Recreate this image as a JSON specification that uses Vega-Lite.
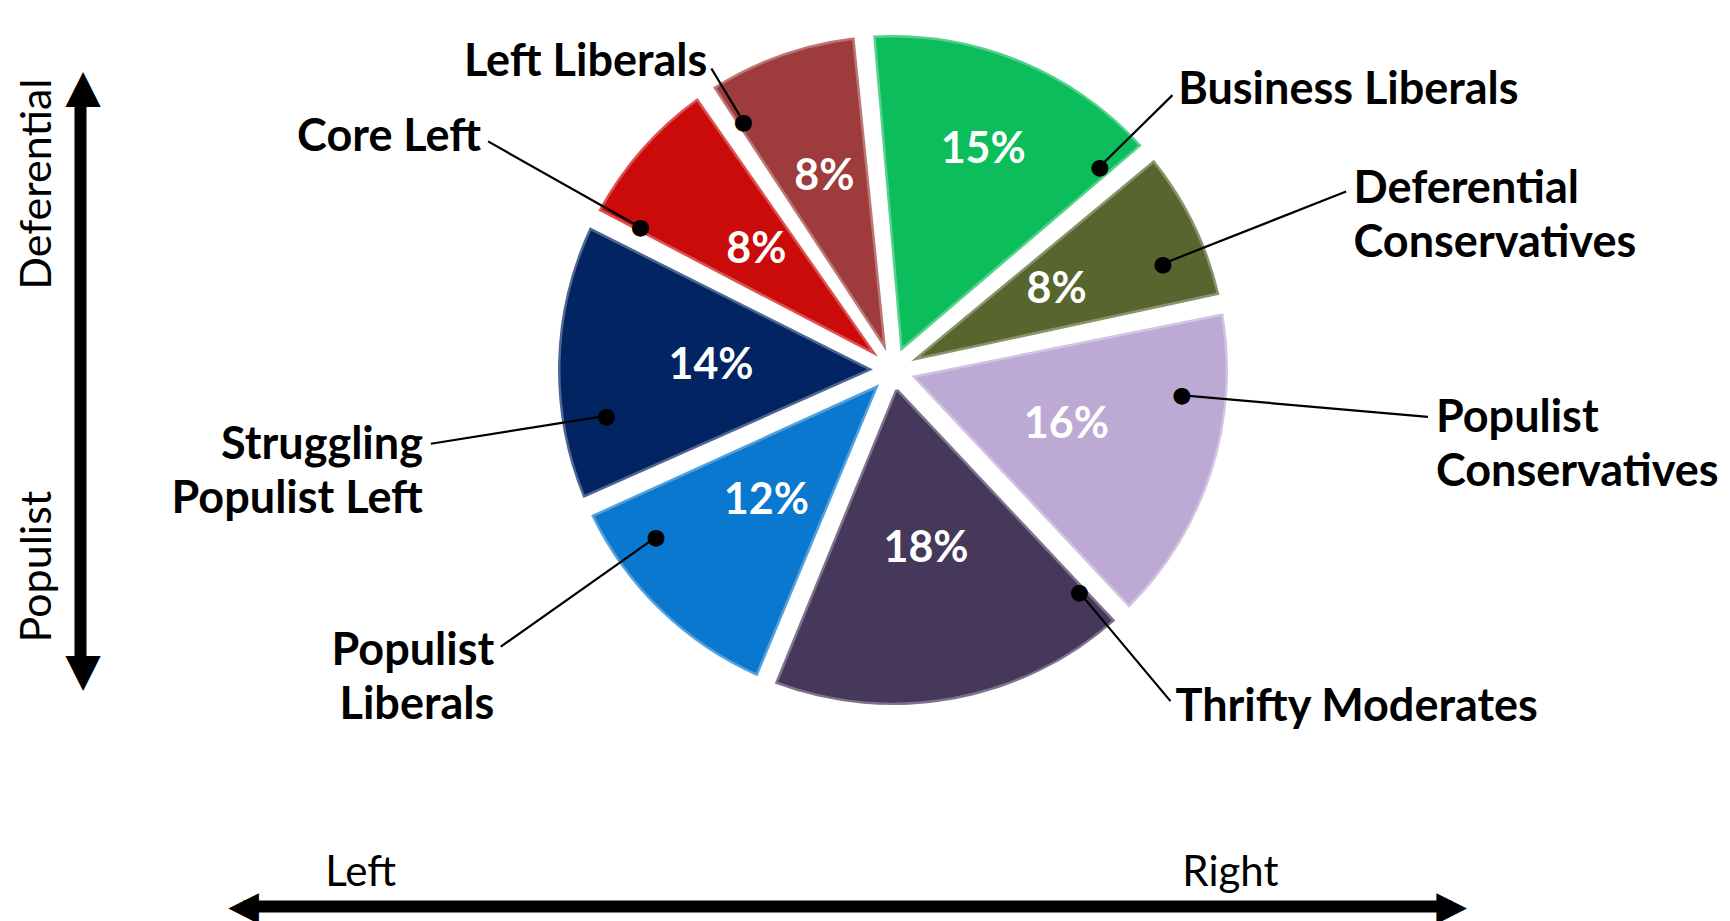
{
  "$schema": "https://vega.github.io/schema/vega-lite/v6.json",
  "width": 1626,
  "height": 740,
  "autosize": {"type": "none"},
  "padding": {"left": 80, "top": 0, "right": 24, "bottom": 181},
  "background": "white",
  "config": {"view": {"stroke": null}},
  "data": {
    "values": [
      {"segment": "Business Liberals", "label": "Business Liberals", "share": 0.15, "rank": 1},
      {"segment": "Deferential Conservatives", "label": "Deferential\nConservatives", "share": 0.08, "rank": 2},
      {"segment": "Populist Conservatives", "label": "Populist\nConservatives", "share": 0.16, "rank": 3},
      {"segment": "Thrifty Moderates", "label": "Thrifty Moderates", "share": 0.18, "rank": 4},
      {"segment": "Populist Liberals", "label": "Populist\nLiberals", "share": 0.12, "rank": 5},
      {"segment": "Struggling Populist Left", "label": "Struggling\nPopulist Left", "share": 0.14, "rank": 6},
      {"segment": "Core Left", "label": "Core Left", "share": 0.08, "rank": 7},
      {"segment": "Left Liberals", "label": "Left Liberals", "share": 0.08, "rank": 8}
    ]
  },
  "layer": [
    {
      "data": {"values": [{"k": 1}]},
      "mark": {"type": "point", "opacity": 0},
      "encoding": {
        "x": {
          "datum": 50, "type": "quantitative",
          "scale": {"domain": [0, 100], "range": [163, 1371], "nice": false, "zero": false},
          "axis": {
            "title": null, "values": [0, 9.7, 81.7, 100],
            "labelExpr": "datum.value == 0 ? '◀' : datum.value == 100 ? '▶' : datum.value < 50 ? 'Left' : 'Right'",
            "domain": true, "domainColor": "black", "domainWidth": 12, "domainCap": "butt",
            "ticks": false, "tickSize": 0, "grid": false, "offset": 166,
            "labelAngle": 0, "labelAlign": "center", "labelFlush": false, "labelOverlap": false, "labelColor": "black", "labelLimit": 0,
            "labelFont": {"condition": {"test": "datum.value == 0 || datum.value == 100", "value": "DejaVu Sans"}, "value": "Lato"},
            "labelFontSize": {"condition": {"test": "datum.value == 0 || datum.value == 100", "value": 40}, "value": 42},
            "labelBaseline": {"condition": {"test": "datum.value == 0 || datum.value == 100", "value": "middle"}, "value": "alphabetic"},
            "labelPadding": {"condition": {"test": "datum.value == 0 || datum.value == 100", "value": 0}, "value": -21}
          }
        },
        "y": {
          "datum": 50, "type": "quantitative",
          "scale": {"domain": [0, 100], "range": [673, 89], "nice": false, "zero": false},
          "axis": {
            "title": null, "values": [0, 18.3, 83.8, 100],
            "labelExpr": "datum.value == 0 ? '◀' : datum.value == 100 ? '▶' : datum.value < 50 ? 'Populist' : 'Deferential'",
            "domain": true, "domainColor": "black", "domainWidth": 12, "domainCap": "butt",
            "ticks": false, "tickSize": 0, "grid": false,
            "labelAngle": -90, "labelAlign": "center", "labelFlush": false, "labelOverlap": false, "labelColor": "black", "labelLimit": 0,
            "labelFont": {"condition": {"test": "datum.value == 0 || datum.value == 100", "value": "DejaVu Sans"}, "value": "Lato"},
            "labelFontSize": {"condition": {"test": "datum.value == 0 || datum.value == 100", "value": 46}, "value": 43},
            "labelBaseline": {"condition": {"test": "datum.value == 0 || datum.value == 100", "value": "middle"}, "value": "alphabetic"},
            "labelPadding": {"condition": {"test": "datum.value == 0 || datum.value == 100", "value": 0}, "value": 30}
          }
        }
      }
    },
    {
      "transform": [
        {"stack": "share", "groupby": [], "sort": [{"field": "rank", "order": "ascending"}], "as": ["t0", "t1"]},
        {"fold": ["t0", "t1"], "as": ["edge", "t"]},
        {"aggregate": [{"op": "mean", "field": "t", "as": "tmid"}], "groupby": ["segment", "label", "share", "rank"]}
      ],
      "layer": [
        {
          "mark": {"type": "arc", "outerRadius": 335, "innerRadius": 20, "padAngle": 0.056},
          "encoding": {
            "theta": {"field": "share", "type": "quantitative", "stack": true, "scale": {"domain": [0, 0.99], "range": [-0.0873, 6.1959], "nice": false, "zero": false}},
            "order": {"field": "rank", "type": "quantitative"},
            "color": {
              "field": "segment", "type": "nominal", "legend": null,
              "scale": {
                "domain": ["Business Liberals", "Deferential Conservatives", "Populist Conservatives", "Thrifty Moderates", "Populist Liberals", "Struggling Populist Left", "Core Left", "Left Liberals"],
                "range": ["#0BBE5B", "#57662F", "#BDAAD4", "#46385B", "#0A78CE", "#032463", "#CB0A0A", "#9E3B3C"]
              }
            }
          }
        },
        {
          "mark": {"type": "arc", "outerRadius": 335, "innerRadius": 20, "padAngle": 0.056, "fill": null, "stroke": "white", "strokeOpacity": 0.3, "strokeWidth": 5, "strokeJoin": "round"},
          "encoding": {
            "theta": {"field": "share", "type": "quantitative", "stack": true},
            "order": {"field": "rank", "type": "quantitative"}
          }
        },
        {
          "transform": [{"filter": {"not": {"field": "segment", "oneOf": ["Business Liberals", "Left Liberals"]}}}],
          "mark": {"type": "text", "radius": 182, "font": "Lato", "fontWeight": "bold", "fontSize": 43, "align": "center", "baseline": "middle", "color": "white"},
          "encoding": {
            "theta": {"field": "tmid", "type": "quantitative", "stack": null},
            "text": {"field": "share", "type": "quantitative", "format": ".0%"}
          }
        },
        {
          "transform": [{"filter": {"field": "segment", "equal": "Business Liberals"}}],
          "mark": {"type": "text", "radius": 238, "font": "Lato", "fontWeight": "bold", "fontSize": 43, "align": "center", "baseline": "middle", "color": "white"},
          "encoding": {
            "theta": {"field": "tmid", "type": "quantitative", "stack": null},
            "text": {"field": "share", "type": "quantitative", "format": ".0%"}
          }
        },
        {
          "transform": [{"filter": {"field": "segment", "equal": "Left Liberals"}}],
          "mark": {"type": "text", "radius": 205, "font": "Lato", "fontWeight": "bold", "fontSize": 43, "align": "center", "baseline": "middle", "color": "white"},
          "encoding": {
            "theta": {"field": "tmid", "type": "quantitative", "stack": null},
            "text": {"field": "share", "type": "quantitative", "format": ".0%"}
          }
        },
        {
          "transform": [{"filter": {"field": "segment", "equal": "Business Liberals"}}],
          "encoding": {"theta": {"field": "tmid", "type": "quantitative", "stack": null}},
          "layer": [
            {"mark": {"type": "arc", "radius": 392, "radius2": 297, "thetaOffset": 0.405, "theta2Offset": 0.405, "fill": null, "stroke": "black", "strokeWidth": 2.2}, "encoding": {"theta2": {"field": "tmid"}}},
            {"mark": {"type": "text", "text": "●", "radius": 290, "thetaOffset": 0.405, "font": "DejaVu Sans", "fontSize": 22, "align": "center", "baseline": "middle", "color": "black"}},
            {"mark": {"type": "text", "radius": 400, "thetaOffset": 0.405, "font": "Lato", "fontWeight": "bold", "fontSize": 45, "align": "left", "baseline": "middle", "lineBreak": "\n", "lineHeight": 54, "color": "black"}, "encoding": {"text": {"field": "label", "type": "nominal"}}}
          ]
        },
        {
          "transform": [{"filter": {"field": "segment", "equal": "Deferential Conservatives"}}],
          "encoding": {"theta": {"field": "tmid", "type": "quantitative", "stack": null}},
          "layer": [
            {"mark": {"type": "arc", "radius": 487, "radius2": 297, "thetaOffset": 0.077, "theta2Offset": 0.077, "fill": null, "stroke": "black", "strokeWidth": 2.2}, "encoding": {"theta2": {"field": "tmid"}}},
            {"mark": {"type": "text", "text": "●", "radius": 290, "thetaOffset": 0.077, "font": "DejaVu Sans", "fontSize": 22, "align": "center", "baseline": "middle", "color": "black"}},
            {"mark": {"type": "text", "radius": 495, "thetaOffset": 0.077, "font": "Lato", "fontWeight": "bold", "fontSize": 45, "align": "left", "baseline": "middle", "lineBreak": "\n", "lineHeight": 54, "color": "black"}, "encoding": {"text": {"field": "label", "type": "nominal"}}}
          ]
        },
        {
          "transform": [{"filter": {"field": "segment", "equal": "Populist Conservatives"}}],
          "encoding": {"theta": {"field": "tmid", "type": "quantitative", "stack": null}},
          "layer": [
            {"mark": {"type": "arc", "radius": 537, "radius2": 297, "thetaOffset": -0.222, "theta2Offset": -0.222, "fill": null, "stroke": "black", "strokeWidth": 2.2}, "encoding": {"theta2": {"field": "tmid"}}},
            {"mark": {"type": "text", "text": "●", "radius": 290, "thetaOffset": -0.222, "font": "DejaVu Sans", "fontSize": 22, "align": "center", "baseline": "middle", "color": "black"}},
            {"mark": {"type": "text", "radius": 545, "thetaOffset": -0.222, "font": "Lato", "fontWeight": "bold", "fontSize": 45, "align": "left", "baseline": "middle", "lineBreak": "\n", "lineHeight": 54, "color": "black"}, "encoding": {"text": {"field": "label", "type": "nominal"}}}
          ]
        },
        {
          "transform": [{"filter": {"field": "segment", "equal": "Thrifty Moderates"}}],
          "encoding": {"theta": {"field": "tmid", "type": "quantitative", "stack": null}},
          "layer": [
            {"mark": {"type": "arc", "radius": 432, "radius2": 297, "thetaOffset": -0.515, "theta2Offset": -0.515, "fill": null, "stroke": "black", "strokeWidth": 2.2}, "encoding": {"theta2": {"field": "tmid"}}},
            {"mark": {"type": "text", "text": "●", "radius": 290, "thetaOffset": -0.515, "font": "DejaVu Sans", "fontSize": 22, "align": "center", "baseline": "middle", "color": "black"}},
            {"mark": {"type": "text", "radius": 440, "thetaOffset": -0.515, "font": "Lato", "fontWeight": "bold", "fontSize": 45, "align": "left", "baseline": "middle", "lineBreak": "\n", "lineHeight": 54, "color": "black"}, "encoding": {"text": {"field": "label", "type": "nominal"}}}
          ]
        },
        {
          "transform": [{"filter": {"field": "segment", "equal": "Populist Liberals"}}],
          "encoding": {"theta": {"field": "tmid", "type": "quantitative", "stack": null}},
          "layer": [
            {"mark": {"type": "arc", "radius": 480, "radius2": 297, "thetaOffset": 0.187, "theta2Offset": 0.187, "fill": null, "stroke": "black", "strokeWidth": 2.2}, "encoding": {"theta2": {"field": "tmid"}}},
            {"mark": {"type": "text", "text": "●", "radius": 290, "thetaOffset": 0.187, "font": "DejaVu Sans", "fontSize": 22, "align": "center", "baseline": "middle", "color": "black"}},
            {"mark": {"type": "text", "radius": 488, "thetaOffset": 0.187, "font": "Lato", "fontWeight": "bold", "fontSize": 45, "align": "right", "baseline": "middle", "lineBreak": "\n", "lineHeight": 54, "color": "black"}, "encoding": {"text": {"field": "label", "type": "nominal"}}}
          ]
        },
        {
          "transform": [{"filter": {"field": "segment", "equal": "Struggling Populist Left"}}],
          "encoding": {"theta": {"field": "tmid", "type": "quantitative", "stack": null}},
          "layer": [
            {"mark": {"type": "arc", "radius": 468, "radius2": 297, "thetaOffset": -0.182, "theta2Offset": -0.182, "fill": null, "stroke": "black", "strokeWidth": 2.2}, "encoding": {"theta2": {"field": "tmid"}}},
            {"mark": {"type": "text", "text": "●", "radius": 290, "thetaOffset": -0.182, "font": "DejaVu Sans", "fontSize": 22, "align": "center", "baseline": "middle", "color": "black"}},
            {"mark": {"type": "text", "radius": 476, "thetaOffset": -0.182, "font": "Lato", "fontWeight": "bold", "fontSize": 45, "align": "right", "baseline": "middle", "lineBreak": "\n", "lineHeight": 54, "color": "black"}, "encoding": {"text": {"field": "label", "type": "nominal"}}}
          ]
        },
        {
          "transform": [{"filter": {"field": "segment", "equal": "Core Left"}}],
          "encoding": {"theta": {"field": "tmid", "type": "quantitative", "stack": null}},
          "layer": [
            {"mark": {"type": "arc", "radius": 465, "radius2": 297, "thetaOffset": -0.208, "theta2Offset": -0.208, "fill": null, "stroke": "black", "strokeWidth": 2.2}, "encoding": {"theta2": {"field": "tmid"}}},
            {"mark": {"type": "text", "text": "●", "radius": 290, "thetaOffset": -0.208, "font": "DejaVu Sans", "fontSize": 22, "align": "center", "baseline": "middle", "color": "black"}},
            {"mark": {"type": "text", "radius": 473, "thetaOffset": -0.208, "font": "Lato", "fontWeight": "bold", "fontSize": 45, "align": "right", "baseline": "middle", "lineBreak": "\n", "lineHeight": 54, "color": "black"}, "encoding": {"text": {"field": "label", "type": "nominal"}}}
          ]
        },
        {
          "transform": [{"filter": {"field": "segment", "equal": "Left Liberals"}}],
          "encoding": {"theta": {"field": "tmid", "type": "quantitative", "stack": null}},
          "layer": [
            {"mark": {"type": "arc", "radius": 352, "radius2": 297, "thetaOffset": -0.201, "theta2Offset": -0.201, "fill": null, "stroke": "black", "strokeWidth": 2.2}, "encoding": {"theta2": {"field": "tmid"}}},
            {"mark": {"type": "text", "text": "●", "radius": 290, "thetaOffset": -0.201, "font": "DejaVu Sans", "fontSize": 22, "align": "center", "baseline": "middle", "color": "black"}},
            {"mark": {"type": "text", "radius": 360, "thetaOffset": -0.201, "font": "Lato", "fontWeight": "bold", "fontSize": 45, "align": "right", "baseline": "middle", "lineBreak": "\n", "lineHeight": 54, "color": "black"}, "encoding": {"text": {"field": "label", "type": "nominal"}}}
          ]
        }
      ]
    }
  ]
}
